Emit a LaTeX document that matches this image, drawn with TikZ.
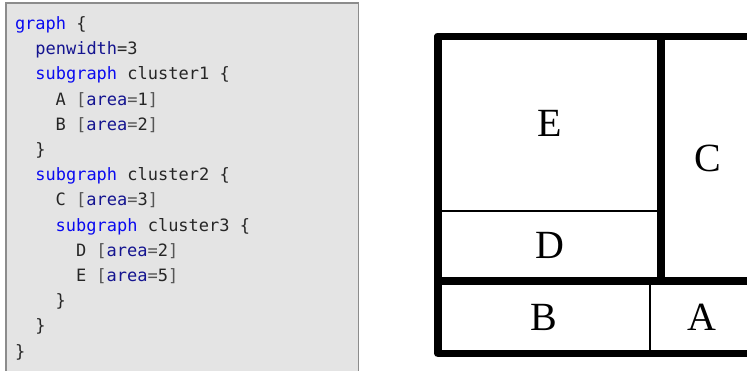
\documentclass[tikz,border=0pt]{standalone}
\usepackage{fontspec}
\setmainfont{Liberation Serif}
\newfontfamily\codefont{DejaVu Sans Mono}
\definecolor{panelfill}{HTML}{E4E4E4}
\definecolor{panelrule}{HTML}{8C8C8C}
\definecolor{codetext}{HTML}{262626}
\definecolor{codekw}{HTML}{0A0AF0}
\definecolor{codeattr}{HTML}{141490}
\definecolor{codepunct}{HTML}{555555}
\newcommand{\kw}[1]{\textcolor{codekw}{#1}}
\newcommand{\attr}[1]{\textcolor{codeattr}{#1}}
\newcommand{\pn}[1]{\textcolor{codepunct}{#1}}
\newcommand{\areaval}[1]{\pn{[}\attr{area}\pn{=}#1\pn{]}}
\tikzset{
  panel/.style={fill=panelfill, draw=panelrule, line width=1.3pt},
  codeline/.style={anchor=base west, inner sep=0pt, outer sep=0pt,
    text=codetext, font=\codefont\fontsize{17}{20}\selectfont},
  cell/.style={draw, line width=2pt, inner sep=0pt, outer sep=0pt,
    font=\fontsize{40}{44}\selectfont},
  cluster/.style={draw, line width=7.5pt, line join=round}
}
\begin{document}
\begin{tikzpicture}[x=1pt, y=-1pt]
\useasboundingbox (0,0) rectangle (747,370);
\clip (0,0) rectangle (747,370);

% source listing
\draw[panel] (6,3) rectangle (358.5,385);
\def\cw{10.17}
\def\lh{25.2}
\node[codeline] (l1)  at (15+0*\cw, 29.5+0*\lh)  {\kw{graph} \{};
\node[codeline] (l2)  at (15+2*\cw, 29.5+1*\lh)  {\attr{penwidth}=3};
\node[codeline] (l3)  at (15+2*\cw, 29.5+2*\lh)  {\kw{subgraph} cluster1 \{};
\node[codeline] (l4)  at (15+4*\cw, 29.5+3*\lh)  {A \areaval{1}};
\node[codeline] (l5)  at (15+4*\cw, 29.5+4*\lh)  {B \areaval{2}};
\node[codeline] (l6)  at (15+2*\cw, 29.5+5*\lh)  {\}};
\node[codeline] (l7)  at (15+2*\cw, 29.5+6*\lh)  {\kw{subgraph} cluster2 \{};
\node[codeline] (l8)  at (15+4*\cw, 29.5+7*\lh)  {C \areaval{3}};
\node[codeline] (l9)  at (15+4*\cw, 29.5+8*\lh)  {\kw{subgraph} cluster3 \{};
\node[codeline] (l10) at (15+6*\cw, 29.5+9*\lh)  {D \areaval{2}};
\node[codeline] (l11) at (15+6*\cw, 29.5+10*\lh) {E \areaval{5}};
\node[codeline] (l12) at (15+4*\cw, 29.5+11*\lh) {\}};
\node[codeline] (l13) at (15+2*\cw, 29.5+12*\lh) {\}};
\node[codeline] (l14) at (15+0*\cw, 29.5+13*\lh) {\}};

% patchwork cells
\node[cell, minimum width=223pt, minimum height=174.2pt] (E) at (549.5,123.6)  {E};
\node[cell, minimum width=223pt, minimum height=70.3pt]  (D) at (549.5,245.85) {D};
\node[cell, minimum width=93pt,  minimum height=244.5pt] (C) at (707.5,158.75) {C};
\node[cell, minimum width=212pt, minimum height=72.5pt]  (B) at (544,317.25)   {B};
\node[cell, minimum width=104pt, minimum height=72.5pt]  (A) at (702,317.25)   {A};

% cluster borders
\draw[cluster] (E.north west) rectangle (D.south east);
\draw[cluster] (E.north west) rectangle (C.south east);
\draw[cluster] (B.north west) rectangle (A.south east);
\end{tikzpicture}
\end{document}
